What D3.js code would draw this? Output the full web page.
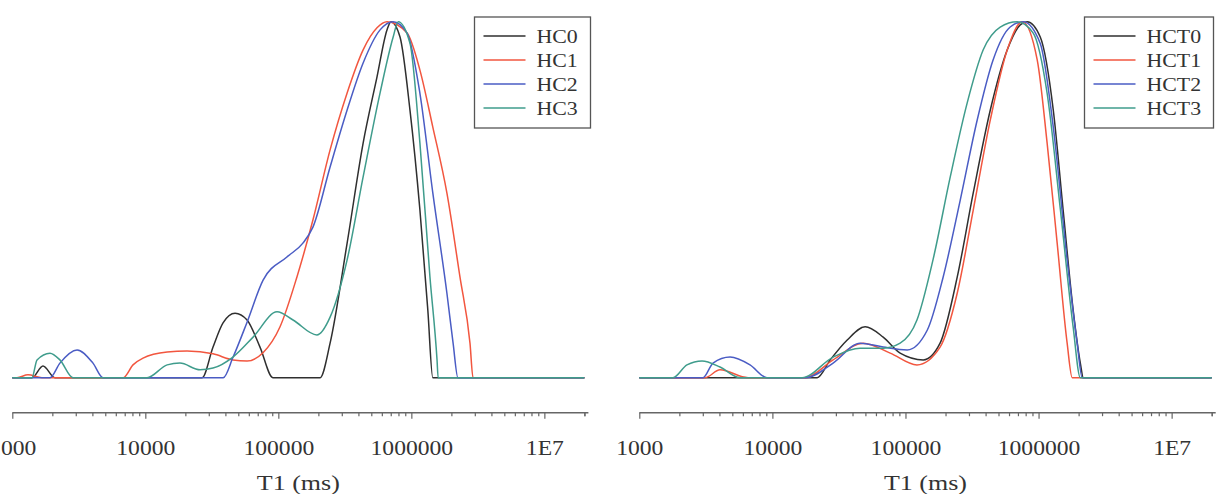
<!DOCTYPE html>
<html><head><meta charset="utf-8">
<script src="https://cdn.jsdelivr.net/npm/d3@7"></script>
<style>
body{margin:0;background:#fff}
svg{display:block}
text{font-family:"Liberation Serif","Times New Roman",serif;fill:#333}
</style>
</head><body><svg id="c" width="1220" height="494"></svg>
<script>
// ---- data (T1 in ms, normalized amplitude) ----
const tickValues = [1000, 10000, 100000, 1000000, 10000000];
const tickLabels = ["1000", "10000", "100000", "1000000", "1E7"];
const xTitle = "T1 (ms)";
const leftNames = ["HC0", "HC1", "HC2", "HC3"];
const rightNames = ["HCT0", "HCT1", "HCT2", "HCT3"];
const colors = ["#2f2f2f", "#f2563f", "#4a5cc4", "#3f9c8c"];

const HC0 = [[1000,0],[1406,0],[1701,0.033],[2094,0],[26700,0],[32300,0.086],[38400,0.154],[47300,0.181],[58200,0.162],[72800,0.086],[91100,0],[206000,0],[245000,0.097],[329000,0.378],[434000,0.659],[552000,0.845],[656000,0.977],[703000,1],[822000,0.957],[977000,0.751],[1160000,0.471],[1330000,0.19],[1450000,0],[2e7,0]];
const HC1 = [[1000,0],[1084,0],[1312,0.008],[1672,0],[6810,0],[8080,0.036],[9610,0.055],[14600,0.072],[20600,0.075],[32300,0.067],[45600,0.05],[58200,0.047],[76700,0.07],[103000,0.143],[138000,0.283],[182000,0.443],[245000,0.64],[329000,0.8],[434000,0.921],[552000,0.983],[656000,1],[929000,0.968],[1160000,0.864],[1450000,0.704],[1850000,0.519],[2320000,0.283],[2760000,0.097],[2910000,0],[2e7,0]];
const HC2 = [[1000,0],[1920,0],[2280,0.041],[3070,0.078],[4040,0.041],[4810,0],[38500,0],[45700,0.058],[58200,0.156],[76800,0.274],[116000,0.339],[153000,0.378],[182000,0.423],[245000,0.592],[329000,0.752],[434000,0.884],[582000,0.977],[730000,1],[929000,0.968],[1160000,0.799],[1450000,0.519],[1850000,0.238],[2060000,0.097],[2240000,0],[2e7,0]];
const HC3 = [[1000,0],[1406,0],[1534,0.05],[1920,0.069],[2280,0.05],[2860,0],[10300,0],[14600,0.036],[18200,0.041],[25800,0.022],[32300,0.027],[45600,0.058],[64600,0.114],[97800,0.185],[129000,0.162],[195000,0.12],[245000,0.17],[329000,0.331],[434000,0.564],[582000,0.8],[730000,0.957],[796000,1],[977000,0.939],[1160000,0.659],[1380000,0.283],[1560000,0.05],[1590000,0],[2e7,0]];

const HCT0 = [[1000,0],[21700,0],[27200,0.05],[36500,0.106],[49800,0.143],[68000,0.114],[91200,0.069],[136000,0.05],[182000,0.097],[245000,0.283],[323000,0.519],[434000,0.752],[582000,0.921],[728000,0.991],[822000,1],[1030000,0.957],[1290000,0.752],[1530000,0.471],[1820000,0.19],[2060000,0.041],[2170000,0],[2e7,0]];
const HCT1 = [[1000,0],[3120,0],[4040,0.022],[6570,0],[17600,0],[28600,0.05],[48100,0.097],[76800,0.069],[122000,0.036],[182000,0.086],[245000,0.238],[323000,0.471],[434000,0.724],[582000,0.921],[755000,1],[977000,0.893],[1160000,0.659],[1380000,0.378],[1640000,0.097],[1790000,0],[2e7,0]];
const HCT2 = [[1000,0],[3010,0],[3580,0.041],[4810,0.058],[6790,0.036],[9100,0],[17900,0],[28600,0.041],[45600,0.097],[68000,0.086],[103000,0.078],[146000,0.134],[192000,0.283],[258000,0.499],[346000,0.724],[456000,0.893],[612000,0.985],[767000,1],[1030000,0.939],[1290000,0.704],[1640000,0.331],[1950000,0.097],[2130000,0],[2e7,0]];
const HCT3 = [[1000,0],[1790,0],[2280,0.036],[2960,0.047],[4040,0.03],[5710,0],[16700,0],[28600,0.058],[45600,0.083],[68000,0.083],[91200,0.097],[122000,0.162],[161000,0.331],[217000,0.564],[291000,0.772],[384000,0.921],[515000,0.985],[692000,1],[912000,0.968],[1160000,0.799],[1460000,0.471],[1820000,0.142],[2060000,0],[2e7,0]];

const leftSeries = [HC0, HC1, HC2, HC3];
const rightSeries = [HCT0, HCT1, HCT2, HCT3];

// ---- drawing ----
const svg = d3.select("#c");
const minorTicks = [];
for (let e = 3; e <= 7; e++) for (let m = 1; m <= 9; m++) { const v = m * Math.pow(10, e); if (v <= 2e7) minorTicks.push(v); }
minorTicks.push(2e7);

function panel(x0, x1, series, names, legend) {
  const x = d3.scaleLog().domain([1000, 2e7]).range([x0, x1]);
  const y = d3.scaleLinear().domain([0, 1]).range([377.7, 21.7]);
  const line = d3.line().x(d => x(d[0])).y(d => y(d[1])).curve(d3.curveMonotoneX);
  const g = svg.append("g");
  series.forEach((s, i) => {
    g.append("path").datum(s).attr("d", line)
      .attr("fill", "none").attr("stroke", colors[i]).attr("stroke-width", 1.5)
      .attr("stroke-linejoin", "round");
  });
  // axis
  const axY = 412.7;
  const axis = d3.axisBottom(x).tickValues(minorTicks)
    .tickSize(4).tickSizeOuter(0)
    .tickFormat(d => { const k = tickValues.indexOf(d); return k >= 0 ? tickLabels[k] : ""; });
  const ag = g.append("g").attr("transform", `translate(0,${axY})`).call(axis);
  ag.select(".domain").attr("d", `M${x(1000)},0H${x(2e7) + 4}`).attr("stroke", "#666").attr("stroke-width", 1.4);
  ag.selectAll(".tick line").attr("stroke", "#666").attr("stroke-width", 1.2)
    .attr("y2", d => tickValues.includes(d) ? 6 : 3.5);
  ag.selectAll(".tick text").attr("y", 42).attr("dy", 0)
    .attr("transform", "scale(1.18,1)")
    .style("font-size", "20px").attr("fill", "#333");
  g.append("text").attr("transform", `translate(${(x0 + x1) / 2},490) scale(1.3,1)`).attr("text-anchor", "middle")
    .style("font-size", "20px").text(xTitle);
  // legend
  const lg = g.append("g");
  lg.append("rect").attr("x", legend.x).attr("y", legend.y).attr("width", legend.w).attr("height", legend.h)
    .attr("fill", "#fff").attr("stroke", "#555").attr("stroke-width", 1.3);
  names.forEach((n, i) => {
    const yy = legend.y + 19 + i * 24;
    lg.append("line").attr("x1", legend.x + 9).attr("x2", legend.x + 51).attr("y1", yy).attr("y2", yy)
      .attr("stroke", colors[i]).attr("stroke-width", 1.5);
    lg.append("text").attr("transform", `translate(${legend.x + 62},${yy + 6.5}) scale(1.15,1)`)
      .style("font-size", "19px").text(n);
  });
}

panel(12.3, 584.4, leftSeries, leftNames, {x: 474.5, y: 17, w: 116, h: 111});
panel(639.3, 1211.7, rightSeries, rightNames, {x: 1084.5, y: 17, w: 129, h: 111});
</script>
</body></html>
